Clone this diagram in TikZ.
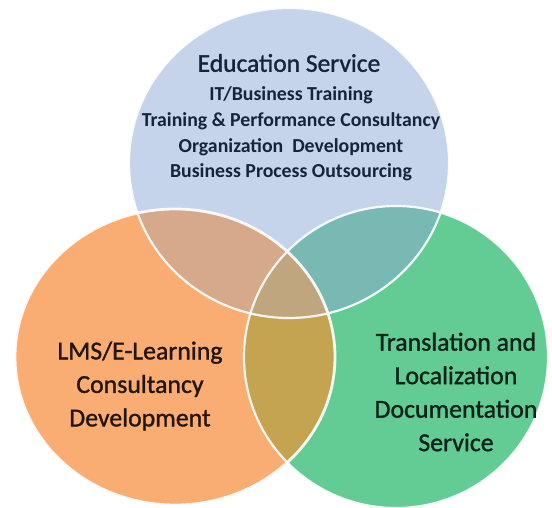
\documentclass[tikz,border=0pt]{standalone}
\usepackage{fontspec}
\setmainfont{Carlito}
\newfontfamily\heavyfont[FakeBold=1.2]{Carlito}
\definecolor{cblue}{HTML}{C5D4EA}
\definecolor{corange}{HTML}{F9AD73}
\definecolor{cgreen}{HTML}{63CC95}
\definecolor{cbo}{HTML}{D5A98A}
\definecolor{cbg}{HTML}{78B9B4}
\definecolor{cog}{HTML}{C4A451}
\definecolor{cbog}{HTML}{C0A67E}
\definecolor{tnavy}{HTML}{16243A}
\definecolor{tbrown}{HTML}{24150C}
\definecolor{tgreen}{HTML}{0C2218}
\begin{document}
\begin{tikzpicture}[x=1pt,y=-1pt,
  rim/.style={draw=white,line width=2.2pt,opacity=0.9},
  title/.style={align=center,inner sep=0pt,text=tnavy,font=\heavyfont\fontsize{25.5}{28}\selectfont},
  sublist/.style={align=center,inner sep=0pt,text=tnavy,font=\bfseries\fontsize{19.8}{25.8}\selectfont},
  bigtext/.style={align=center,inner sep=0pt,font=\heavyfont\fontsize{25.8}{33.5}\selectfont}]
\useasboundingbox (0,0) rectangle (552,508);
\def\pblue{(289,163) ellipse [x radius=160, y radius=155]}
\def\porange{(175,357) ellipse [x radius=160, y radius=148]}
\def\pgreen{(396,357) ellipse [x radius=152, y radius=151]}
% base fills
\fill[cblue] \pblue;
\fill[corange] \porange;
\fill[cgreen] \pgreen;
% pairwise overlaps
\begin{scope}\clip \pblue; \fill[cbo] \porange; \end{scope}
\begin{scope}\clip \pblue; \fill[cbg] \pgreen; \end{scope}
\begin{scope}\clip \porange; \fill[cog] \pgreen; \end{scope}
\begin{scope}\clip \pblue; \clip \porange; \fill[cbog] \pgreen; \end{scope}
% white rims
\path[rim] \pblue;
\path[rim] \pgreen;
\path[rim,line width=2.8pt] \porange;
% texts
\node[title] (edu) at (289,63) {Education Service};
\node[sublist] (edulist) at (291,134) {IT/Business Training\\Training \& Performance Consultancy\\Organization\ \ Development\\Business Process Outsourcing};
\node[bigtext,text=tbrown] (lms) at (140,386) {LMS/E-Learning\\Consultancy\\Development};
\node[bigtext,text=tgreen] (trans) at (456,392) {Translation and\\Localization\\Documentation\\Service};
\end{tikzpicture}
\end{document}
